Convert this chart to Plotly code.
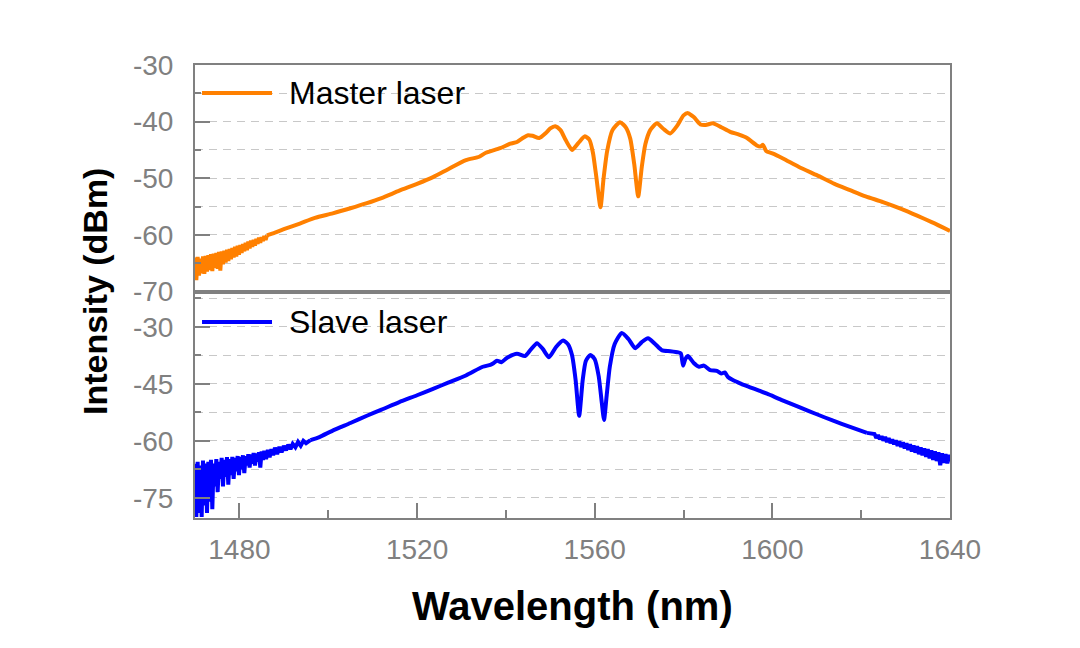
import plotly.graph_objects as go

# ---------------- data ----------------
master_wl = [1470.0, 1470.3, 1470.6, 1470.9, 1471.2, 1471.5, 1471.8, 1472.1, 1472.4, 1472.7,
             1473.0, 1473.3, 1473.6, 1473.9, 1474.2, 1474.5, 1474.8, 1475.1, 1475.4, 1475.7,
             1476.0, 1476.3, 1476.6, 1476.9, 1477.2, 1477.5, 1477.8, 1478.1, 1478.4, 1478.7,
             1479.0, 1479.3, 1479.6, 1479.9, 1480.2, 1480.5, 1480.8, 1481.1, 1481.4, 1481.7,
             1482.0, 1482.3, 1482.6, 1482.9, 1483.2, 1483.5, 1483.8, 1484.1, 1484.4, 1484.7,
             1485.0, 1485.3, 1485.6, 1485.9, 1486.2,
             1488.0, 1490.0, 1493.6, 1497.0, 1501.0, 1505.0, 1508.7, 1512.0, 1516.0, 1520.0,
             1523.6, 1527.0, 1531.0, 1534.0, 1535.5, 1538.7, 1541.0, 1542.5, 1544.0, 1545.0,
             1546.0, 1547.5, 1549.0, 1550.0, 1551.1, 1552.3, 1553.5, 1554.9, 1556.3, 1557.8,
             1558.8, 1559.6, 1560.4, 1561.3, 1562.0, 1562.8, 1564.0, 1565.7, 1567.0, 1568.0,
             1568.9, 1569.8, 1570.6, 1571.4, 1572.5, 1574.0, 1575.5, 1577.0, 1578.5, 1580.0,
             1581.0, 1582.3, 1583.8, 1585.0, 1586.6, 1588.5, 1590.5, 1592.5, 1594.3, 1596.5,
             1597.3, 1597.9, 1598.6, 1600.0, 1602.4, 1606.0, 1610.1, 1614.0, 1617.5, 1621.0,
             1624.9, 1629.0, 1632.6, 1636.0, 1640.0]
master_db = [-64.0, -68.0, -63.9, -67.2, -64.2, -66.8, -63.8, -66.9, -63.7, -66.5,
             -63.6, -66.2, -63.4, -66.4, -63.3, -65.8, -63.2, -66.0, -63.0, -66.3,
             -62.9, -65.2, -62.8, -64.9, -62.6, -64.6, -62.5, -64.3, -62.3, -64.0,
             -62.1, -63.8, -61.9, -63.5, -61.8, -63.2, -61.6, -62.9, -61.4, -62.7,
             -61.2, -62.4, -61.0, -62.1, -60.9, -61.9, -60.7, -61.6, -60.5, -61.4,
             -60.4, -61.1, -60.2, -60.9, -60.1,
             -59.6, -59.0, -58.0, -57.0, -56.2, -55.3, -54.4, -53.5, -52.2, -51.0,
             -49.8, -48.4, -46.8, -46.2, -45.5, -44.7, -43.9, -43.6, -42.8, -42.4,
             -42.5, -42.9, -42.0, -41.2, -40.8, -41.5, -43.3, -45.0, -43.8, -42.6,
             -43.2, -45.5, -50.0, -55.1, -50.0, -45.2, -41.5, -40.1, -41.0, -43.0,
             -47.5, -53.2, -48.0, -44.0, -41.5, -40.3, -41.3, -42.1, -40.8, -38.9,
             -38.5, -39.2, -40.5, -40.6, -40.3, -41.0, -41.8, -42.3, -42.9, -44.2,
             -44.4, -44.1, -45.2, -45.6, -46.5, -48.0, -49.5, -51.0, -52.1, -53.2,
             -54.2, -55.4, -56.6, -57.8, -59.3]

slave_wl = [1470.0, 1470.3, 1470.6, 1470.9, 1471.2, 1471.5, 1471.8, 1472.1, 1472.4, 1472.7,
            1473.0, 1473.3, 1473.6, 1473.9, 1474.2, 1474.5, 1474.8, 1475.1, 1475.4, 1475.7,
            1476.0, 1476.3, 1476.6, 1476.9, 1477.2, 1477.5, 1477.8, 1478.1, 1478.4, 1478.7,
            1479.0, 1479.3, 1479.6, 1479.9, 1480.2, 1480.5, 1480.8, 1481.1, 1481.4, 1481.7,
            1482.0, 1482.3, 1482.6, 1482.9, 1483.2, 1483.5, 1483.8, 1484.1, 1484.4, 1484.7,
            1485.0, 1485.3, 1485.6, 1486.0, 1486.4, 1486.8, 1487.2, 1487.6, 1488.0, 1488.5,
            1489.0, 1489.5, 1490.0, 1490.5, 1491.0, 1491.5, 1492.0, 1492.6, 1493.2, 1493.8,
            1494.4, 1495.0, 1496.0, 1498.0, 1501.0, 1505.0, 1508.7, 1512.0, 1516.0, 1520.0,
            1523.6, 1527.0, 1531.0, 1534.8, 1536.5, 1537.2, 1538.0, 1539.0, 1540.2, 1542.5,
            1544.3, 1545.6, 1547.0, 1548.3, 1549.7, 1551.3, 1552.9, 1554.0, 1554.9, 1555.7,
            1556.5, 1557.3, 1558.0, 1559.0, 1560.0, 1560.9, 1561.6, 1562.1, 1562.7, 1563.4,
            1564.5, 1566.1, 1567.6, 1569.1, 1570.6, 1572.0, 1573.6, 1575.2, 1577.0, 1578.8,
            1579.4, 1579.9, 1580.4, 1581.0, 1582.3, 1583.5, 1584.6, 1586.0, 1587.5, 1588.5,
            1589.3, 1590.0, 1591.1, 1593.0, 1595.0, 1597.0, 1598.8, 1602.0, 1606.2, 1610.0,
            1613.7, 1617.5, 1621.3,
            1623.0, 1623.4, 1623.8, 1624.2, 1624.6, 1625.0, 1625.4, 1625.8, 1626.2, 1626.6,
            1627.0, 1627.4, 1627.8, 1628.2, 1628.6, 1629.0, 1629.4, 1629.8, 1630.2, 1630.6,
            1631.0, 1631.4, 1631.8, 1632.2, 1632.6, 1633.0, 1633.4, 1633.8, 1634.2, 1634.6,
            1635.0, 1635.4, 1635.8, 1636.2, 1636.6, 1637.0, 1637.4, 1637.8, 1638.2, 1638.6,
            1639.0, 1639.4, 1639.8, 1640.0]
slave_db = [-66.0, -80.0, -65.5, -79.0, -66.5, -80.0, -65.2, -77.0, -66.0, -79.0,
            -65.5, -76.0, -65.0, -78.0, -66.0, -72.0, -64.8, -73.5, -65.5, -70.0,
            -64.5, -72.0, -65.0, -69.5, -64.3, -71.5, -64.8, -69.0, -64.2, -70.0,
            -64.5, -68.0, -64.0, -69.0, -64.2, -67.5, -63.8, -68.5, -64.0, -66.5,
            -63.5, -67.0, -63.6, -66.0, -63.2, -66.5, -63.3, -65.5, -63.0, -67.0,
            -62.8, -65.0, -62.6, -64.8, -62.4, -64.3, -62.2, -63.8, -61.8, -63.5,
            -61.6, -63.0, -61.3, -62.5, -61.0, -62.2, -60.8, -61.7, -60.3, -61.3,
            -60.0, -60.6, -59.8, -59.0, -57.3, -55.3, -53.4, -51.8, -49.8, -48.0,
            -46.3, -44.7, -42.8, -40.5, -40.0, -39.6, -38.9, -39.3, -38.2, -37.1,
            -37.7, -36.0, -34.3, -35.8, -38.0, -35.3, -33.6, -34.6, -37.5, -44.0,
            -53.4, -44.0, -39.0, -37.4, -38.5, -43.0, -50.0, -54.5, -48.0, -40.5,
            -34.5, -31.6, -33.2, -35.6, -34.0, -33.0, -34.5, -36.2, -36.4, -36.7,
            -37.0, -40.2, -38.5, -37.7, -39.5, -40.5, -40.2, -41.4, -41.6, -42.3,
            -42.0, -43.2, -44.0, -45.0, -45.9, -46.8, -47.6, -49.2, -51.2, -53.0,
            -54.7, -56.3, -57.9,
            -58.2, -59.2, -58.5, -59.6, -58.8, -59.9, -59.0, -60.3, -59.3, -60.6,
            -59.6, -60.9, -59.9, -61.3, -60.1, -61.6, -60.4, -62.0, -60.6, -62.4,
            -60.9, -62.8, -61.2, -63.1, -61.4, -63.5, -61.7, -63.8, -62.0, -64.2,
            -62.2, -64.6, -62.5, -65.0, -62.8, -65.3, -63.0, -66.4, -63.3, -65.8,
            -63.5, -65.9, -63.7, -65.5]

x_range = [1470, 1640]
x_ticks = [1480, 1520, 1560, 1600, 1640]
top_y_range = [-70, -30]
top_y_ticks = [-70, -60, -50, -40, -30]
top_y_labels = ["-70", "-60", "-50", "-40", "-30"]
bottom_y_range = [-80.3, -20.7]
bottom_y_ticks = [-75, -60, -45, -30]
bottom_y_labels = ["-75", "-60", "-45", "-30"]
series_names = ["Master laser", "Slave laser"]
x_title = "Wavelength (nm)"
y_title = "Intensity (dBm)"

# wavelength bounds of the noisy (straight-segment) parts of each spectrum
master_noise_end = 1486.2
slave_noise_end = 1496.0
slave_noise_start_right = 1621.3

# ---------------- styles ----------------
ORANGE = "rgb(255,128,0)"
BLUE = "rgb(0,0,255)"
AXIS = "#808080"
GRID = "#c8c8c8"
FONT = "Arial, Liberation Sans, sans-serif"


def segment(wl, db, lo, hi):
    pts = [(w, d) for w, d in zip(wl, db) if lo <= w <= hi]
    return [p[0] for p in pts], [p[1] for p in pts]


def line_style(color, shape):
    style = dict(color=color, width=4, shape=shape, simplify=False)
    if shape == "spline":
        style["smoothing"] = 0.6
    return style


fig = go.Figure()

segs_master = [
    (x_range[0], master_noise_end, "linear"),
    (master_noise_end, x_range[1], "spline"),
]
for lo, hi, shape in segs_master:
    xs, ys = segment(master_wl, master_db, lo, hi)
    fig.add_trace(go.Scatter(x=xs, y=ys, mode="lines", name=series_names[0],
                             legendgroup="master", showlegend=False,
                             line=line_style(ORANGE, shape), xaxis="x", yaxis="y"))

segs_slave = [
    (x_range[0], slave_noise_end, "linear"),
    (slave_noise_end, slave_noise_start_right, "spline"),
    (slave_noise_start_right, x_range[1], "linear"),
]
for lo, hi, shape in segs_slave:
    xs, ys = segment(slave_wl, slave_db, lo, hi)
    fig.add_trace(go.Scatter(x=xs, y=ys, mode="lines", name=series_names[1],
                             legendgroup="slave", showlegend=False,
                             line=line_style(BLUE, shape), xaxis="x2", yaxis="y2"))

common_axis = dict(showline=True, linecolor=AXIS, linewidth=2, mirror=True,
                   tickcolor=AXIS, tickwidth=2, zeroline=False,
                   tickfont=dict(family=FONT, size=28, color=AXIS))

fig.update_layout(
    width=1080, height=648,
    margin=dict(l=195, r=130, t=65, b=130),
    paper_bgcolor="white", plot_bgcolor="white",
    font=dict(family=FONT),
    xaxis=dict(common_axis, domain=[0, 1], anchor="y", range=x_range,
               showticklabels=False, ticks="", showgrid=False),
    yaxis=dict(common_axis, domain=[0.5, 1], anchor="x", range=top_y_range,
               tickmode="array", tickvals=top_y_ticks, ticktext=top_y_labels,
               ticks="inside", ticklen=15, showgrid=False, ticklabelstandoff=14,
               minor=dict(tickmode="linear", tick0=-30, dtick=5, ticks="inside", ticklen=6,
                          tickcolor=AXIS, tickwidth=2,
                          showgrid=True, gridcolor=GRID, gridwidth=1.2, griddash="8px,6px")),
    xaxis2=dict(common_axis, domain=[0, 1], anchor="y2", range=x_range,
                tickmode="array", tickvals=x_ticks, ticktext=[str(v) for v in x_ticks],
                ticks="inside", ticklen=15, showgrid=False, ticklabelstandoff=5,
                minor=dict(tickmode="linear", tick0=1480, dtick=20, ticks="inside", ticklen=8,
                           tickcolor=AXIS, tickwidth=2)),
    yaxis2=dict(common_axis, domain=[0, 0.5], anchor="x2", range=bottom_y_range,
                tickmode="array", tickvals=bottom_y_ticks, ticktext=bottom_y_labels,
                ticks="inside", ticklen=15, showgrid=False, ticklabelstandoff=14,
                minor=dict(tickmode="linear", tick0=-30, dtick=7.5, ticks="inside", ticklen=6,
                           tickcolor=AXIS, tickwidth=2,
                           showgrid=True, gridcolor=GRID, gridwidth=1.2, griddash="8px,6px")),
)

# legend backgrounds (hide gridlines behind legend entries)
fig.add_shape(type="rect", xref="x domain", yref="y domain", x0=0.004, x1=0.364,
              y0=0.79, y1=0.96, fillcolor="white", line=dict(width=0), layer="below")
fig.add_shape(type="rect", xref="x2 domain", yref="y2 domain", x0=0.004, x1=0.344,
              y0=0.76, y1=0.98, fillcolor="white", line=dict(width=0), layer="below")

# legend entries
for ypos, color, name in [(0.938, ORANGE, series_names[0]), (0.4327, BLUE, series_names[1])]:
    fig.add_shape(type="line", xref="paper", yref="paper", x0=0.0093, x1=0.102,
                  y0=ypos, y1=ypos, line=dict(color=color, width=4))
    fig.add_annotation(xref="paper", yref="paper", x=0.1219, y=ypos, text=name,
                       showarrow=False, xanchor="left", yanchor="middle",
                       font=dict(family=FONT, size=32, color="black"))

# axis titles
fig.add_annotation(xref="paper", yref="paper", x=0.5, y=-0.194, text=x_title,
                   showarrow=False, xanchor="center", yanchor="middle",
                   font=dict(family=FONT, size=40, color="black", weight="bold"))
fig.add_annotation(xref="paper", yref="paper", x=-0.1325, y=0.501, text=y_title,
                   showarrow=False, xanchor="center", yanchor="middle", textangle=-90,
                   font=dict(family=FONT, size=34, color="black", weight="bold"))

fig.write_html("out.html")
